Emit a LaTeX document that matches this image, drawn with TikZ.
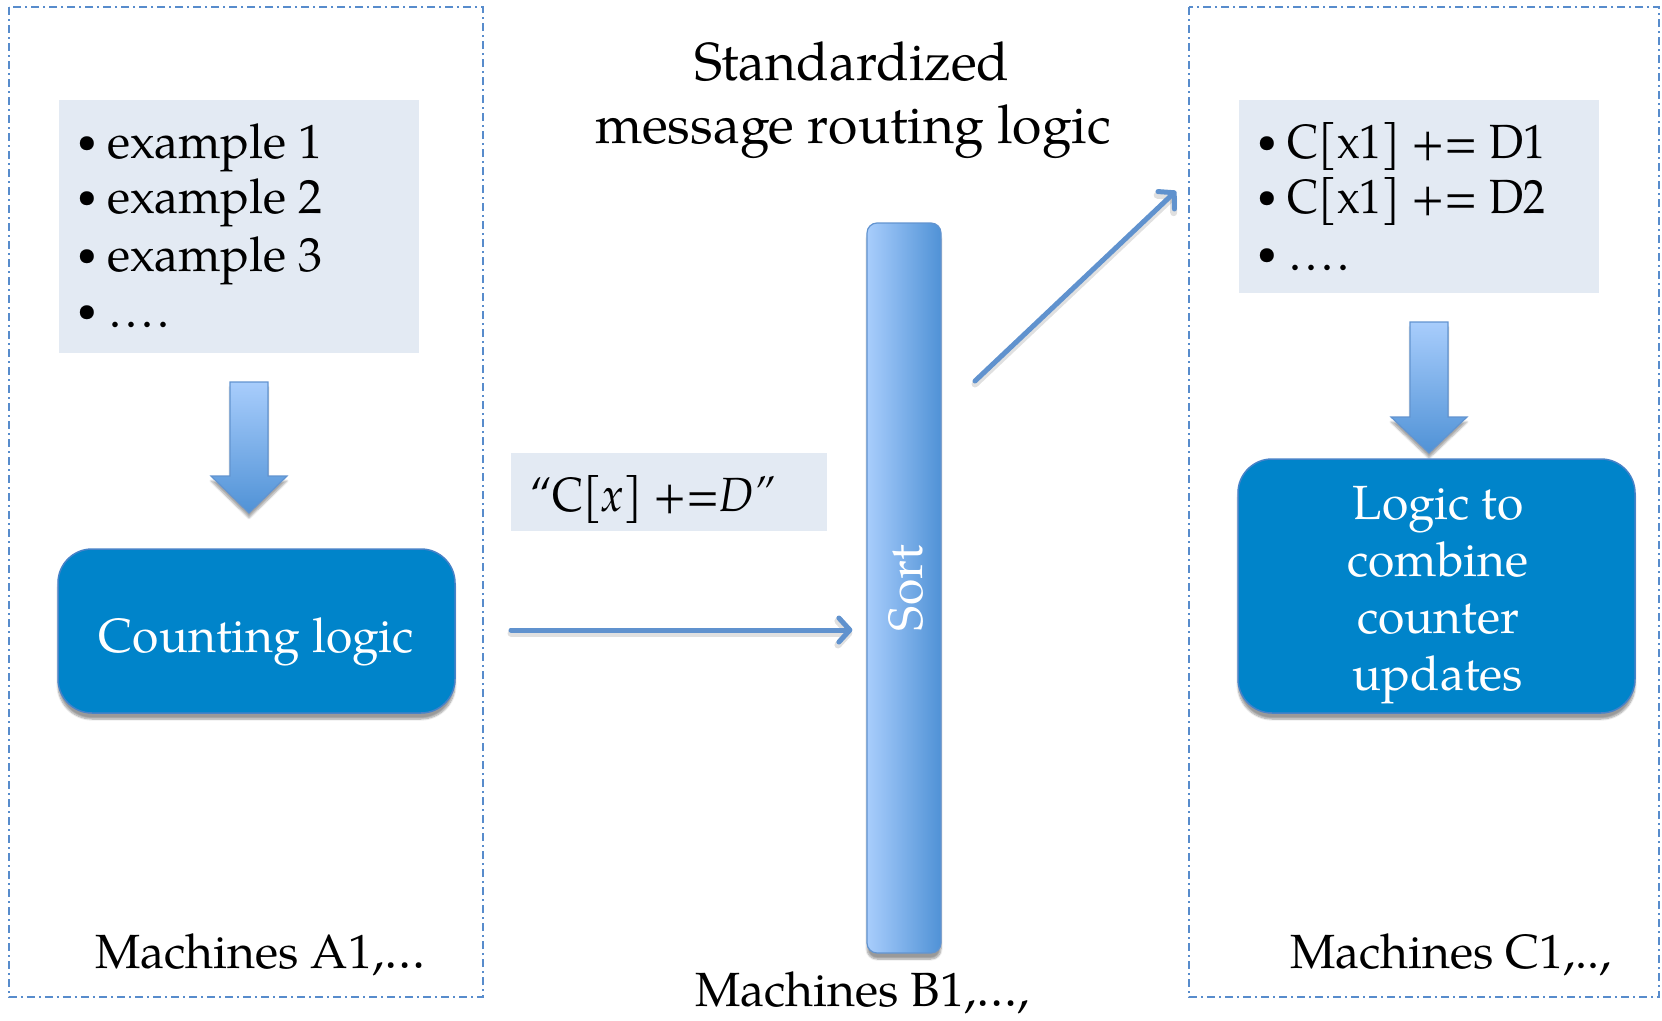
\documentclass[tikz,border=0pt]{standalone}
\usepackage{fontspec}
\usepackage{graphicx}
\setmainfont{TeX Gyre Pagella}
\usetikzlibrary{arrows.meta,shadows.blur}

\definecolor{frameblue}{RGB}{88,140,204}
\definecolor{listfill}{RGB}{227,234,243}
\definecolor{logicblue}{RGB}{0,132,202}
\definecolor{logicedge}{RGB}{70,130,200}
\definecolor{barlight}{RGB}{168,205,252}
\definecolor{bardark}{RGB}{80,146,214}
\definecolor{baredge}{RGB}{98,148,208}
\definecolor{flowblue}{RGB}{96,146,206}

% list bullet and a wide-spaced row of dots
\newcommand\itm[1]{\makebox[20pt]{\raisebox{5.5pt}{\fontsize{35}{35}\selectfont\textbullet}}\hspace{10pt}#1}
\newcommand\moredots{\hspace{2pt}.\hspace{4pt}.\hspace{4pt}.\hspace{4pt}.}

\begin{document}
\begin{tikzpicture}[x=1pt,y=-1pt,
  txt/.style={inner sep=0pt, font=\fontsize{48}{57}\selectfont},
  machinebox/.style={draw=frameblue, line width=2.2pt,
    dash pattern=on 8pt off 4pt on 2pt off 4pt},
  listbox/.style={fill=listfill, draw=none, inner sep=0pt},
  logicbox/.style={rounded corners=34pt, fill=logicblue, draw=logicedge,
    line width=1.5pt, text=white, align=center, inner sep=0pt,
    font=\fontsize{48}{57}\selectfont,
    blur shadow={shadow xshift=0pt, shadow yshift=-6pt,
      shadow blur steps=8, shadow opacity=40}},
  sortbar/.style={rounded corners=10pt, left color=barlight, right color=bardark,
    draw=baredge, line width=1.2pt, inner sep=0pt,
    blur shadow={shadow xshift=0pt, shadow yshift=-6pt,
      shadow blur steps=8, shadow opacity=40}},
  downarrow/.style={top color=barlight, bottom color=bardark, draw=baredge,
    line width=1.2pt,
    blur shadow={shadow xshift=0pt, shadow yshift=-5pt,
      shadow blur steps=6, shadow opacity=35}},
  flow/.style={draw=flowblue, line width=5pt, line cap=round,
    -{Straight Barb[length=11pt,width=24pt,round]}},
  flowshadow/.style={draw=black, opacity=0.12, line width=7pt, line cap=round,
    -{Straight Barb[length=11pt,width=24pt,round]}, transform canvas={yshift=-3pt}},
]
\path[use as bounding box] (0,0) rectangle (1662,1020);

% machine groups
\draw[machinebox] (9,7) rectangle (483,997);
\draw[machinebox] (1189,7) rectangle (1659,997);

% left group: input examples and counting logic
\node[listbox, minimum width=360pt, minimum height=253pt] (examples) at (239,226.5) {};
\node[txt, anchor=base west] (ex1) at (77,158) {\itm{example 1}};
\node[txt, anchor=base west] (ex2) at (77,213) {\itm{example 2}};
\node[txt, anchor=base west] (ex3) at (77,271) {\itm{example 3}};
\node[txt, anchor=base west] (ex4) at (77,327) {\itm{\moredots}};

\path[downarrow] (230,382) -- (268,382) -- (268,476) -- (287,476) -- (249,513)
  -- (211,476) -- (230,476) -- cycle;

\node[logicbox, minimum width=397pt, minimum height=164pt,
  text height=48pt, text depth=6pt] (count) at (256.5,631) {Counting logic};

% middle: message and sort
\node[txt, anchor=base, font=\fontsize{53.5}{63}\selectfont] (title1) at (852,80) {Standardized};
\node[txt, anchor=base, font=\fontsize{53.5}{63}\selectfont] (title2) at (853,143) {message routing logic};

\node[listbox, minimum width=316pt, minimum height=78pt] (msgbox) at (669,492) {};
\node[txt, anchor=base west] (msg) at (530,511)
  {\scalebox{0.91}[1]{“C[\textit{x]} +=\textit{D”}}};

\node[sortbar, minimum width=74pt, minimum height=730pt] (sort) at (904,588) {};
\node[txt, rotate=90, text=white] (sortlabel) at (906,588) {Sort};

\coordinate (msgsrc) at (511,630);
\draw[flowshadow, shorten >=14pt] (msgsrc) -- (msgsrc -| sort.west);
\draw[flow, shorten >=14pt] (msgsrc) -- (msgsrc -| sort.west);

\coordinate (routefrom) at (975,381);
\coordinate (routeto) at (1176,191);
\draw[flowshadow] (routefrom) -- (routeto);
\draw[flow] (routefrom) -- (routeto);

% right group: counter updates and combining logic
\node[listbox, minimum width=360pt, minimum height=193pt] (updates) at (1419,196.5) {};
\node[txt, anchor=base west] (up1) at (1257,158) {\itm{\scalebox{0.915}[1]{C[x1] += D1}}};
\node[txt, anchor=base west] (up2) at (1257,213) {\itm{\scalebox{0.915}[1]{C[x1] += D2}}};
\node[txt, anchor=base west] (up3) at (1257,270) {\itm{\moredots}};

\path[downarrow] (1410,322) -- (1448,322) -- (1448,417) -- (1467,417) -- (1429,453)
  -- (1391,417) -- (1410,417) -- cycle;

\node[logicbox, minimum width=397pt, minimum height=254pt] (combine) at (1436.5,586) {};
\node[txt, text=white, align=center] (combinetext) at (1438,595)
  {Logic to\\combine\\counter\\updates};

% machine labels
\node[txt, anchor=base west] (labA) at (95,968) {Machines A1,…};
\node[txt, anchor=base west] (labB) at (695,1006) {Machines B1,…,};
\node[txt, anchor=base west] (labC) at (1290,968) {Machines C1,..,};
\end{tikzpicture}
\end{document}
